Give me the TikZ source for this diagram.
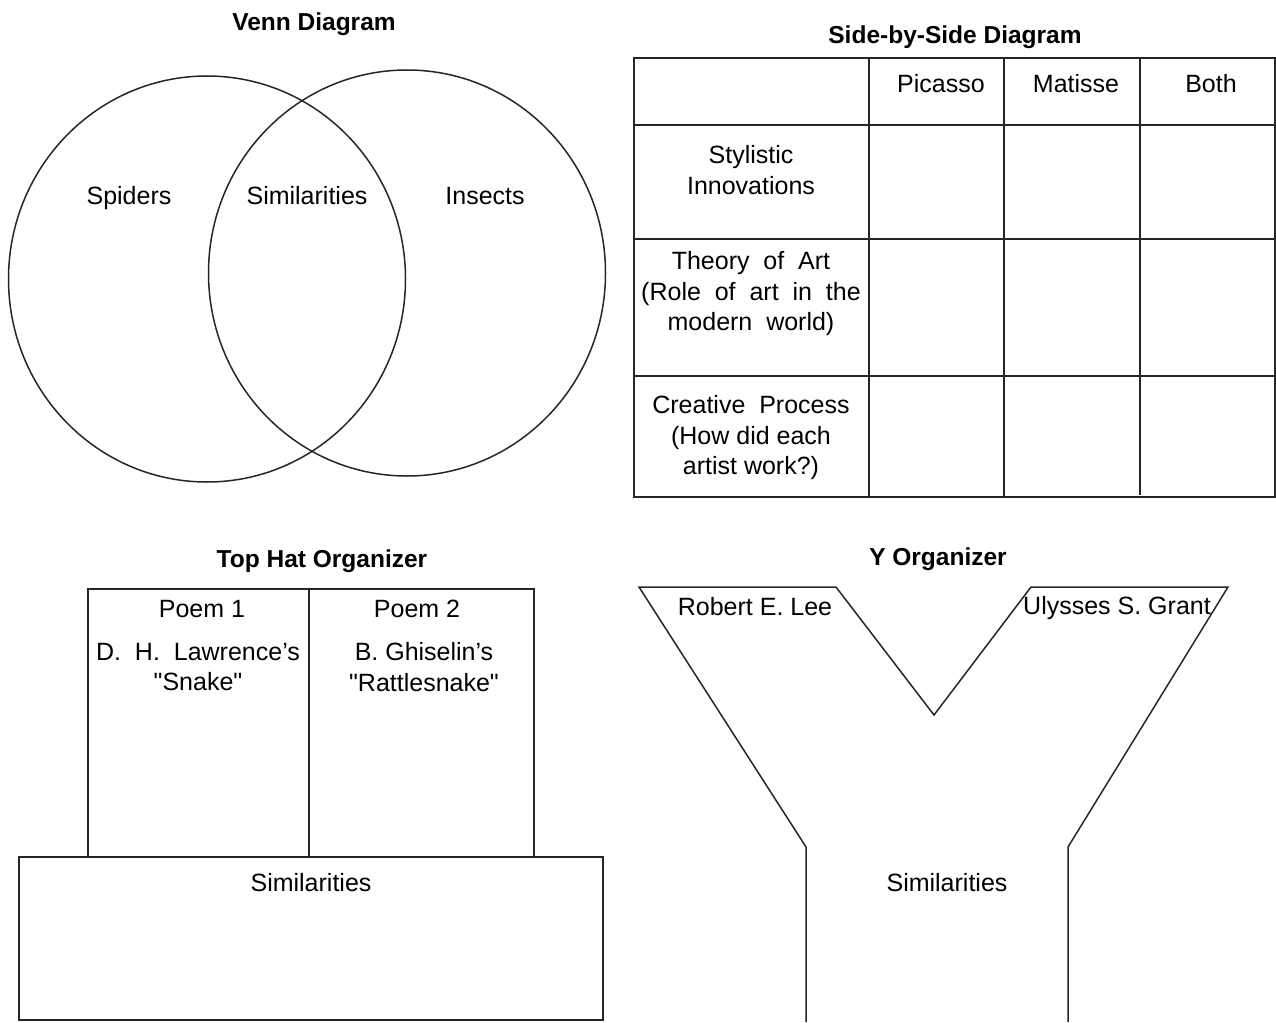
\documentclass[tikz,border=0pt]{standalone}
\usepackage{fontspec}
\setmainfont{Liberation Sans}[Ligatures=TeXOff]
\usetikzlibrary{shapes.geometric}
\begin{document}
\begin{tikzpicture}[x=1pt,y=-1pt,
  ttl/.style={font=\bfseries\fontsize{24.5}{29}\selectfont, inner sep=0, anchor=base},
  lbl/.style={font=\fontsize{25}{30.5}\selectfont, inner sep=0, align=center},
  bl/.style={lbl, anchor=base},
  ln/.style={line width=1.5pt, draw=black!85},
  tl/.style={line width=2pt, draw=black!85},
  circ/.style={ln, ellipse, minimum width=397pt, minimum height=406pt, inner sep=0}]
\useasboundingbox (0,0) rectangle (1276,1022);
\fill[white] (0,0) rectangle (1276,1022);

% ---------- Venn ----------
\node[ttl] (venntitle) at (314,31) {Venn Diagram};
\node[circ] (spidc) at (207,279) {};
\node[circ] (insc) at (407,273) {};
\node[bl] (spid) at (129,204) {Spiders};
\node[bl] (simv) at (307,204) {Similarities};
\node[bl] (ins) at (485,204) {Insects};

% ---------- Side-by-side ----------
\node[ttl] (sbstitle) at (955,44) {Side-by-Side Diagram};
\draw[tl] (634,58) rectangle (1275,497);
\foreach \yy in {125,239,376} \draw[tl] (634,\yy) -- (1275,\yy);
\foreach \xx in {869,1004} \draw[tl] (\xx,58) -- (\xx,497);
\draw[tl] (1140,58) -- (1140,495);
\node[bl] (pic) at (941,93) {Picasso};
\node[bl] (mat) at (1076,93) {Matisse};
\node[bl] (both) at (1211,93) {Both};
\node[lbl] (sty) at (751,170) {Stylistic\\Innovations};
\node[lbl] (theo) at (751,294) {Theory\ \ of\ \ Art\\(Role\ \ of\ \ art\ \ in\ \ the\\modern\ \ world)};
\node[lbl] (crea) at (751,438) {Creative\ \ Process\\(How did each\\artist work?)};

% ---------- Top hat ----------
\node[ttl] (thtitle) at (322,567) {Top Hat Organizer};
\draw[ln] (88,857) -- (88,589) -- (534,589) -- (534,857);
\draw[ln] (309,589) -- (309,857);
\draw[ln] (19,857) rectangle (603,1020);
\node[bl] (p1) at (202,617) {Poem 1};
\node[bl] (p2) at (417,617) {Poem 2};
\node[lbl] (law) at (198,667) {D.\ \ H.\ \ Lawrence’s\\"Snake"};
\node[lbl] (ghi) at (424,667) {B. Ghiselin’s\\"Rattlesnake"};
\node[bl] (simt) at (311,891) {Similarities};

% ---------- Y organizer ----------
\node[ttl] (ytitle) at (938,565) {Y Organizer};
\coordinate (ybl) at (806,1022);
\coordinate (yjl) at (806,847);
\coordinate (ytl) at (639,587);
\coordinate (ytli) at (836,587);
\coordinate (yv) at (934,715);
\coordinate (ytri) at (1031,587);
\coordinate (ytr) at (1228,587);
\coordinate (yjr) at (1068,847);
\coordinate (ybr) at (1068,1022);
\draw[ln] (ybl) -- (yjl) -- (ytl) -- (ytli) -- (yv) -- (ytri) -- (ytr) -- (yjr) -- (ybr);
\node[bl] (lee) at (755,615) {Robert E. Lee};
\node[bl] (grant) at (1117,614) {Ulysses S. Grant};
\node[bl] (simy) at (947,891) {Similarities};
\end{tikzpicture}
\end{document}
